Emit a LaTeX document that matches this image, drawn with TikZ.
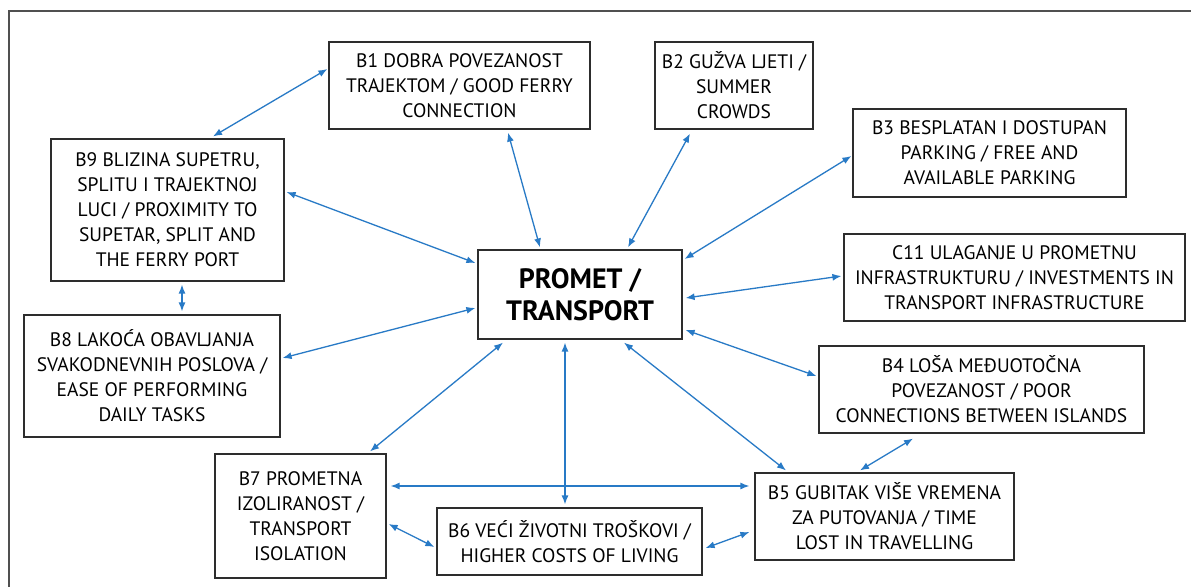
\documentclass[tikz,border=0pt]{standalone}
\usepackage{fontspec}
\setmainfont{PT Sans}
\usetikzlibrary{arrows.meta}

\definecolor{linkblue}{RGB}{40,122,198}
\definecolor{boxgray}{RGB}{45,45,45}
\definecolor{framegray}{RGB}{80,80,80}

\tikzset{
  factor/.style={draw=boxgray,line width=1.2pt,align=center,inner sep=0pt,
    font=\fontsize{19.5}{25}\selectfont},
  link/.style={linkblue,line width=1.3pt,{Latex[length=9pt,width=7pt]}-{Latex[length=9pt,width=7pt]}}
}

\begin{document}
\begin{tikzpicture}[x=1pt,y=-1pt]
    \useasboundingbox (0,0) rectangle (1191,587);
    \fill[white] (0,0) rectangle (1191,587);
    %% frame
    \draw[framegray,line width=1.6pt] (1191,11) -- (9,11) -- (9,587);
    %% centre
    \node[factor,minimum width=204,minimum height=89,font=\fontsize{28}{32}\bfseries] (prom) at (580,294.5) {PROMET /\\TRANSPORT};
    %% factors
    \node[factor,minimum width=261,minimum height=87] (b1) at (459.5,85.5) {B1 DOBRA POVEZANOST\\TRAJEKTOM / GOOD FERRY\\CONNECTION};
    \node[factor,minimum width=158,minimum height=87] (b2) at (734,85.5) {B2 GUŽVA LJETI /\\SUMMER\\CROWDS};
    \node[factor,minimum width=273,minimum height=88] (b3) at (989.5,153) {B3 BESPLATAN I DOSTUPAN\\PARKING / FREE AND\\AVAILABLE PARKING};
    \node[factor,minimum width=341,minimum height=87] (c11) at (1014.5,277.5) {C11 ULAGANJE U PROMETNU\\INFRASTRUKTURU / INVESTMENTS IN\\TRANSPORT INFRASTRUCTURE};
    \node[factor,minimum width=325,minimum height=87] (b4) at (981.5,389.5) {B4 LOŠA MEĐUOTOČNA\\POVEZANOST / POOR\\CONNECTIONS BETWEEN ISLANDS};
    \node[factor,minimum width=259,minimum height=87] (b5) at (884.5,516.5) {B5 GUBITAK VIŠE VREMENA\\ZA PUTOVANJA / TIME\\LOST IN TRAVELLING};
    \node[factor,minimum width=265,minimum height=67] (b6) at (569.5,541.5) {B6 VEĆI ŽIVOTNI TROŠKOVI /\\HIGHER COSTS OF LIVING};
    \node[factor,minimum width=171,minimum height=124] (b7) at (300.5,516) {B7 PROMETNA\\IZOLIRANOST /\\TRANSPORT\\ISOLATION};
    \node[factor,minimum width=256,minimum height=122] (b8) at (152,376) {B8 LAKOĆA OBAVLJANJA\\SVAKODNEVNIH POSLOVA /\\EASE OF PERFORMING\\DAILY TASKS};
    \node[factor,minimum width=233,minimum height=142] (b9) at (167.5,210) {B9 BLIZINA SUPETRU,\\SPLITU I TRAJEKTNOJ\\LUCI / PROXIMITY TO\\SUPETAR, SPLIT AND\\THE FERRY PORT};
    %% arrows to the centre
    \draw[link] ([xshift=48.5pt,yshift=-3pt]b1.south) -- ([xshift=-40pt,yshift=2pt]prom.north);
    \draw[link] ([xshift=-44pt,yshift=-4pt]b2.south) -- ([xshift=48pt,yshift=2pt]prom.north);
    \draw[link] ([xshift=-1pt,yshift=-3pt]b3.west) -- ([xshift=2pt,yshift=35.5pt]prom.east);
    \draw[link] ([xshift=-2pt,yshift=1.5pt]c11.west) -- ([xshift=3pt,yshift=-3.5pt]prom.east);
    \draw[link] ([xshift=-2pt,yshift=13.5pt]b4.west) -- ([xshift=3pt,yshift=-35.5pt]prom.east);
    \draw[link] ([xshift=-98.5pt,yshift=2pt]b5.north) -- ([xshift=44pt,yshift=-3pt]prom.south);
    \draw[link] ([xshift=-4.5pt,yshift=3pt]b6.north) -- ([xshift=-15pt,yshift=-3pt]prom.south);
    \draw[link] ([xshift=69.5pt,yshift=2pt]b7.north) -- ([xshift=-77pt,yshift=-3pt]prom.south);
    \draw[link] ([xshift=2pt,yshift=18pt]b8.east) -- ([xshift=-2pt,yshift=-13.5pt]prom.west);
    \draw[link] ([xshift=2pt,yshift=18pt]b9.east) -- ([xshift=-2pt,yshift=31.5pt]prom.west);
    %% arrows between factors
    \draw[link] ([xshift=45.5pt,yshift=2pt]b9.north) -- ([xshift=-1pt,yshift=16.5pt]b1.west);
    \draw[link] ([xshift=14.5pt,yshift=-3pt]b9.south) -- ([xshift=30pt,yshift=3pt]b8.north);
    \draw[link] ([xshift=-68.5pt,yshift=-5pt]b4.south) -- ([xshift=-24.5pt,yshift=2pt]b5.north);
    \draw[link] ([xshift=4pt,yshift=30pt]b7.east) -- ([xshift=-5pt,yshift=30.5pt]b5.west);
    \draw[link] ([xshift=2pt,yshift=-8pt]b7.east) -- ([xshift=-2pt,yshift=-5.5pt]b6.west);
    \draw[link] ([xshift=3pt,yshift=-6.5pt]b6.east) -- ([xshift=-5pt,yshift=-15.5pt]b5.west);
\end{tikzpicture}
\end{document}
